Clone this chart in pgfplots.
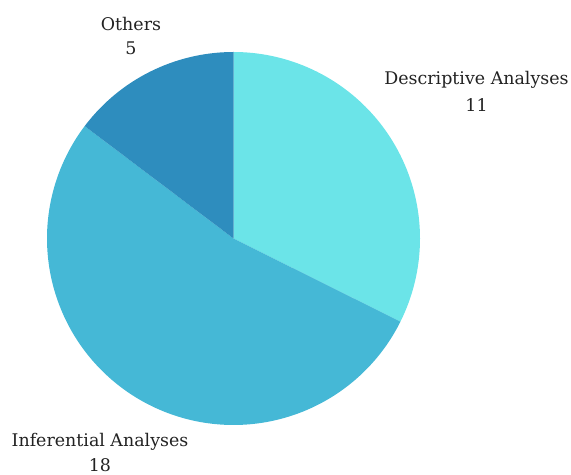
\documentclass[border=0pt]{standalone}
\usepackage{pgfplots}
\pgfplotsset{compat=1.18}
\usepackage{fontspec}
\setmainfont{DejaVu Serif}
\definecolor{cDesc}{HTML}{6BE4E8}
\definecolor{cInf}{HTML}{45B8D6}
\definecolor{cOth}{HTML}{2E8DBE}
\definecolor{txt}{HTML}{222222}
\begin{document}
\begin{tikzpicture}
\def\vA{11}\def\vB{18}\def\vC{5}
\pgfmathsetmacro\tot{\vA+\vB+\vC}
\pgfmathsetmacro\aA{90}
\pgfmathsetmacro\aB{90-360*\vA/\tot}
\pgfmathsetmacro\aC{\aB-360*\vB/\tot}
\pgfmathsetmacro\aD{\aC-360*\vC/\tot}
\def\cx{233.5}\def\cy{236.5}\def\r{186.5}
\begin{axis}[width=571bp,height=475bp,scale only axis,hide axis,
  xmin=0,xmax=571,ymin=0,ymax=475,clip=false,anchor=south west,at={(0,0)}]
\addplot[fill=cDesc,draw=none,domain=\aB:\aA,samples=120]
  ({\cx+\r*cos(x)},{\cy+\r*sin(x)}) -- (axis cs:\cx,\cy) -- cycle;
\addplot[fill=cInf,draw=none,domain=\aC:\aB,samples=180]
  ({\cx+\r*cos(x)},{\cy+\r*sin(x)}) -- (axis cs:\cx,\cy) -- cycle;
\addplot[fill=cOth,draw=none,domain=\aD:\aC,samples=60]
  ({\cx+\r*cos(x)},{\cy+\r*sin(x)}) -- (axis cs:\cx,\cy) -- cycle;
\begin{scope}[every node/.style={font=\fontsize{17.5}{25}\selectfont,text=txt,anchor=base,inner sep=0pt}]
\node at (axis cs:131,475-31) {Others};
\node at (axis cs:131,475-55) {\vC};
\node at (axis cs:476.5,475-85) {Descriptive Analyses};
\node at (axis cs:476.5,475-112) {\vA};
\node at (axis cs:100,475-446) {Inferential Analyses};
\node at (axis cs:100,475-471) {\vB};
\end{scope}
\end{axis}
\pgfresetboundingbox
\path (0,0) rectangle (571bp,475bp);
\end{tikzpicture}
\end{document}
